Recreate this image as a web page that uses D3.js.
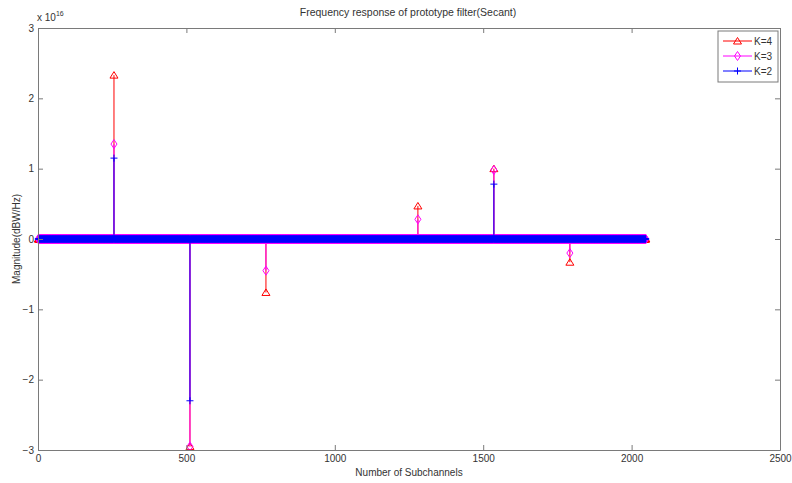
<!DOCTYPE html>
<html>
<head>
<meta charset="utf-8">
<script src="https://cdn.jsdelivr.net/npm/d3@7"></script>
<style>
  html, body { margin: 0; padding: 0; background: #fff; }
  svg { display: block; font-family: "Liberation Sans", Arial, sans-serif; }
</style>
</head>
<body>
<svg id="chart" width="792" height="483"></svg>
<script>
// Number of subchannels in the prototype filter response
const subchannelCount = 2048;

// Non-zero responses (in units of 1e16) at a few subchannel indices; all others are 0
const spikeIndex = [256, 512, 768, 1280, 1536, 1792];
const k4Spikes   = [2.33, -2.95, -0.76, 0.47, 1.00, -0.33];
const k3Spikes   = [1.35, -2.95, -0.45, 0.28, 0.98, -0.20];
const k2Spikes   = [1.15, -2.30, 0.00, 0.00, 0.78, 0.00];

const xTicks = [0, 500, 1000, 1500, 2000, 2500];
const yTicks = [-3, -2, -1, 0, 1, 2, 3];

const seriesNames  = ["K=4", "K=3", "K=2"];
const seriesColors = ["#ff0000", "#ff00ff", "#0000ff"];
const seriesMarks  = ["triangle", "diamond", "plus"];

function buildSeries(spikes) {
  const vals = new Array(subchannelCount).fill(0);
  spikeIndex.forEach((idx, i) => { vals[idx - 1] = spikes[i]; });
  return vals.map((v, i) => ({ x: i + 1, y: v }));
}
const series = [k4Spikes, k3Spikes, k2Spikes].map(buildSeries);

const markPaths = {
  triangle: "M0,-3.5L4,3L-4,3Z",
  diamond: "M0,-4.5L3,0L0,4.5L-3,0Z",
  plus: "M-3.5,0L3.5,0M0,-3.5L0,3.5"
};

const margin = { left: 38, right: 12, top: 28, bottom: 33 };
const W = 792, H = 483;
const svg = d3.select("#chart");

const x = d3.scaleLinear().domain([0, 2500]).range([margin.left, W - margin.right]);
const y = d3.scaleLinear().domain([-3, 3]).range([H - margin.bottom, margin.top]);

const axisColor = "#7a7a7a";
const textColor = "#333";

// Stems and markers for each series
const plot = svg.append("g");
series.forEach((data, si) => {
  const color = seriesColors[si];
  const g = plot.append("g");
  g.selectAll("line.stem")
    .data(data.filter(d => d.y !== 0))
    .join("line")
    .attr("x1", d => x(d.x)).attr("x2", d => x(d.x))
    .attr("y1", y(0)).attr("y2", d => y(d.y))
    .attr("stroke", color).attr("stroke-width", 1);
  g.selectAll("path.mk")
    .data(data)
    .join("path")
    .attr("transform", d => `translate(${x(d.x)},${y(d.y)})`)
    .attr("d", markPaths[seriesMarks[si]])
    .attr("fill", "none")
    .attr("stroke", color).attr("stroke-width", 1);
});

// Axes box with inward ticks on all four sides
const box = svg.append("g");
const fmt = d3.format("d");
const xAxisB = d3.axisBottom(x).tickValues(xTicks).tickSizeInner(-5).tickSizeOuter(0).tickPadding(5).tickFormat(fmt);
const xAxisT = d3.axisTop(x).tickValues(xTicks).tickSizeInner(-5).tickSizeOuter(0).tickFormat("");
const yAxisL = d3.axisLeft(y).tickValues(yTicks).tickSizeInner(-5).tickSizeOuter(0).tickPadding(4).tickFormat(fmt);
const yAxisR = d3.axisRight(y).tickValues(yTicks).tickSizeInner(-5).tickSizeOuter(0).tickFormat("");

function style(g) {
  g.selectAll("path.domain").attr("stroke", axisColor);
  g.selectAll(".tick line").attr("stroke", axisColor);
  g.selectAll(".tick text").attr("fill", textColor).attr("font-size", 10)
    .attr("font-family", "Liberation Sans, Arial, sans-serif");
}
box.append("g").attr("transform", `translate(0,${y(-3)})`).call(xAxisB).call(style);
box.append("g").attr("transform", `translate(0,${y(3)})`).call(xAxisT).call(style);
box.append("g").attr("transform", `translate(${x(0)},0)`).call(yAxisL).call(style);
box.append("g").attr("transform", `translate(${x(2500)},0)`).call(yAxisR).call(style);

// Exponent label
const ex = svg.append("text").attr("x", 37).attr("y", 21).attr("font-size", 10).attr("fill", textColor);
ex.append("tspan").text("x 10");
ex.append("tspan").attr("font-size", 7).attr("dy", -5).text("16");

// Title and axis labels
svg.append("text").attr("x", 408).attr("y", 16).attr("text-anchor", "middle")
  .attr("font-size", 10.5).attr("fill", textColor)
  .text("Frequency response of prototype filter(Secant)");
svg.append("text").attr("x", 409).attr("y", 476).attr("text-anchor", "middle")
  .attr("font-size", 10).attr("fill", textColor).text("Number of Subchannels");
svg.append("text").attr("transform", `translate(20,${y(0)}) rotate(-90)`).attr("text-anchor", "middle")
  .attr("font-size", 10).attr("fill", textColor).text("Magnitude(dBW/Hz)");

// Legend
const lg = svg.append("g").attr("transform", "translate(718,31)");
lg.append("rect").attr("width", 60).attr("height", 51).attr("fill", "#fff").attr("stroke", axisColor);
seriesNames.forEach((name, i) => {
  const ly = 10 + i * 15;
  const row = lg.append("g").attr("transform", `translate(0,${ly})`);
  row.append("line").attr("x1", 5).attr("x2", 34).attr("stroke", seriesColors[i]);
  row.append("path").attr("transform", "translate(19.5,0)").attr("d", markPaths[seriesMarks[i]])
    .attr("fill", "none").attr("stroke", seriesColors[i]);
  row.append("text").attr("x", 36).attr("y", 4).attr("font-size", 10).attr("fill", textColor).text(name);
});
</script>
</body>
</html>
